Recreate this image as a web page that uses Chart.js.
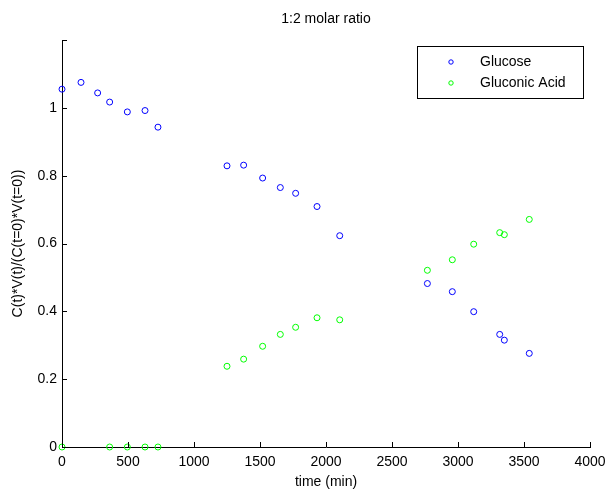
<!DOCTYPE html>
<html>
<head>
<meta charset="utf-8">
<script src="https://cdn.jsdelivr.net/npm/chart.js@4/dist/chart.umd.min.js"></script>
<style>
  body { margin: 0; background: #fff; }
  canvas { display: block; }
</style>
</head>
<body>
<canvas id="chart" width="607" height="489"></canvas>
<script>
// sample times (min), shared by both series
var times = [0, 144, 270, 361, 495, 629, 727, 1250, 1376, 1520, 1654, 1770, 1932, 2104, 2768, 2957, 3119, 3316, 3351, 3540];
var glucose = [1.055, 1.075, 1.044, 1.017, 0.988, 0.992, 0.943, 0.829, 0.831, 0.793, 0.765, 0.748, 0.709, 0.623, 0.482, 0.458, 0.399, 0.332, 0.315, 0.276];
var gluconicAcid = [0, null, null, 0, 0, 0, 0, 0.238, 0.259, 0.297, 0.332, 0.353, 0.381, 0.375, 0.521, 0.552, 0.598, 0.632, 0.626, 0.671];

var xTicks = [0, 500, 1000, 1500, 2000, 2500, 3000, 3500, 4000];
var xTickLabels = ['0', '500', '1000', '1500', '2000', '2500', '3000', '3500', '4000'];
var yTicks = [0, 0.2, 0.4, 0.6, 0.8, 1, 1.2];
var yTickLabels = ['0', '0.2', '0.4', '0.6', '0.8', '1', ''];

var titleText = '1:2 molar ratio';

var FONT = "'Liberation Sans', Arial, sans-serif";
Chart.defaults.font.family = FONT;
Chart.defaults.font.size = 14;
Chart.defaults.color = '#000';

function toPoints(xs, ys) {
  var pts = [];
  for (var i = 0; i < xs.length; i++) {
    if (ys[i] !== null) pts.push({x: xs[i], y: ys[i]});
  }
  return pts;
}

// matlab style ticks, pointing into the plot
var innerTicks = {
  id: 'innerTicks',
  afterDraw: function(chart) {
    var ctx = chart.ctx;
    var xs = chart.scales.x, ys = chart.scales.y;
    ctx.save();
    ctx.strokeStyle = '#000';
    ctx.lineWidth = 1;
    ctx.beginPath();
    xs.ticks.forEach(function(t) {
      var px = Math.round(xs.getPixelForValue(t.value)) + 0.5;
      ctx.moveTo(px, ys.bottom);
      ctx.lineTo(px, ys.bottom - 5);
    });
    ys.ticks.forEach(function(t) {
      var py = Math.round(ys.getPixelForValue(t.value)) + 0.5;
      ctx.moveTo(xs.left, py);
      ctx.lineTo(xs.left + 5, py);
    });
    ctx.stroke();
    ctx.restore();
  }
};

// title centred over the axes, not the whole canvas
var axesTitle = {
  id: 'axesTitle',
  afterDraw: function(chart) {
    var ctx = chart.ctx, a = chart.chartArea;
    ctx.save();
    ctx.font = '14px ' + FONT;
    ctx.fillStyle = '#000';
    ctx.textAlign = 'center';
    ctx.textBaseline = 'middle';
    ctx.fillText(titleText, (a.left + a.right) / 2, 19);
    ctx.restore();
  }
};

// boxed legend in the upper right corner
var boxLegend = {
  id: 'boxLegend',
  afterDraw: function(chart) {
    var ctx = chart.ctx;
    var x0 = 417, y0 = 46, w = 166, h = 52;
    ctx.save();
    ctx.fillStyle = '#fff';
    ctx.fillRect(x0, y0, w, h);
    ctx.strokeStyle = '#000';
    ctx.lineWidth = 1;
    ctx.strokeRect(x0 + 0.5, y0 + 0.5, w, h);
    ctx.font = '14px ' + FONT;
    ctx.textBaseline = 'middle';
    ctx.textAlign = 'left';
    chart.data.datasets.forEach(function(ds, i) {
      var cy = y0 + 16 + i * 21;
      ctx.beginPath();
      ctx.arc(451, cy, 2.2, 0, Math.PI * 2);
      ctx.strokeStyle = ds.borderColor;
      ctx.stroke();
      ctx.fillStyle = '#000';
      ctx.fillText(ds.label, 480, cy);
    });
    ctx.restore();
  }
};

new Chart(document.getElementById('chart'), {
  type: 'scatter',
  data: {
    datasets: [{
      label: 'Glucose',
      data: toPoints(times, glucose),
      borderColor: '#0000ff',
      backgroundColor: 'rgba(0,0,0,0)',
      pointRadius: 3,
      borderWidth: 1,
      clip: false
    }, {
      label: 'Gluconic Acid',
      data: toPoints(times, gluconicAcid),
      borderColor: '#00ff00',
      backgroundColor: 'rgba(0,0,0,0)',
      pointRadius: 3,
      borderWidth: 1,
      clip: false
    }]
  },
  options: {
    responsive: false,
    animation: false,
    layout: { padding: { left: 0, right: 17, top: 40, bottom: 0 } },
    plugins: {
      legend: { display: false },
      tooltip: { enabled: false },
      title: { display: false }
    },
    scales: {
      x: {
        type: 'linear',
        min: 0,
        max: 4000,
        grid: { display: false, drawTicks: false },
        border: { display: true, color: '#000', width: 1 },
        afterBuildTicks: function(scale) {
          scale.ticks = xTicks.map(function(v) { return {value: v}; });
        },
        afterFit: function(scale) {
          scale.height = 42;
          scale.paddingLeft = 0;
          scale.paddingRight = 0;
        },
        ticks: {
          autoSkip: false,
          maxRotation: 0,
          padding: 7,
          callback: function(v, i) { return xTickLabels[i]; }
        },
        title: { display: true, text: 'time (min)', padding: { top: -2, bottom: -2 } }
      },
      y: {
        type: 'linear',
        min: 0,
        max: 1.2,
        grid: { display: false, drawTicks: false },
        border: { display: true, color: '#000', width: 1 },
        afterBuildTicks: function(scale) {
          scale.ticks = yTicks.map(function(v) { return {value: v}; });
        },
        afterFit: function(scale) {
          scale.width = 62;
          scale.paddingTop = 0;
          scale.paddingBottom = 0;
        },
        ticks: {
          autoSkip: false,
          padding: 5,
          callback: function(v, i) { return yTickLabels[i]; }
        },
        title: { display: true, text: 'C(t)*V(t)/(C(t=0)*V(t=0))', padding: { top: 10, bottom: 0 } }
      }
    }
  },
  plugins: [innerTicks, axesTitle, boxLegend]
});
</script>
</body>
</html>
